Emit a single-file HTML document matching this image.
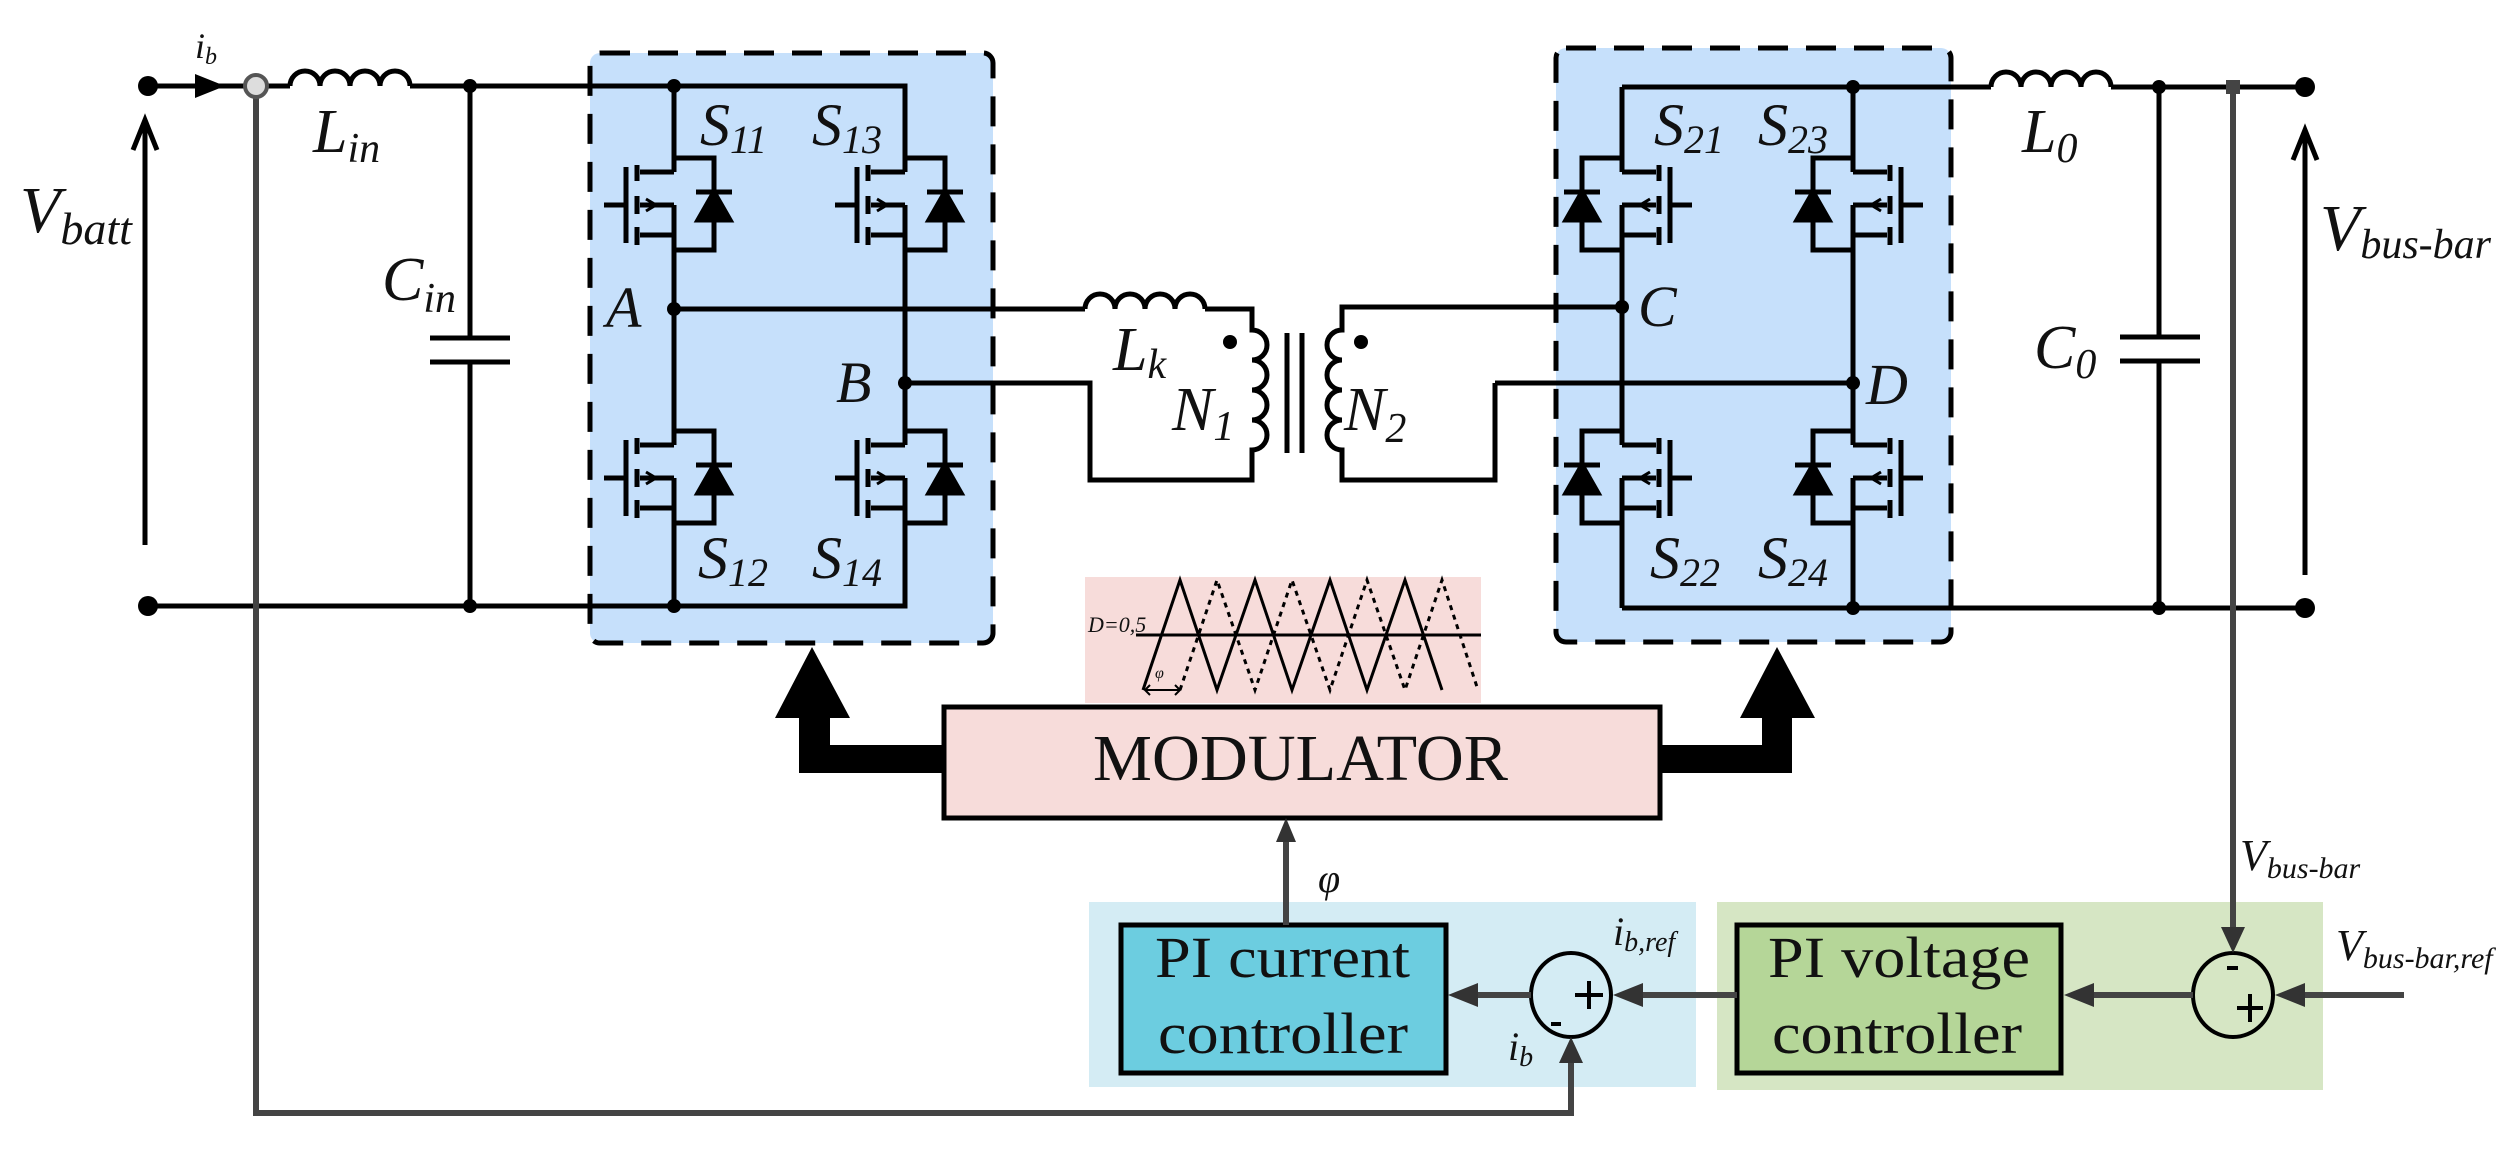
<!DOCTYPE html>
<html><head><meta charset="utf-8"><style>
html,body{margin:0;padding:0;background:#fff;font-family:"Liberation Serif","DejaVu Serif",serif;}
svg{display:block;}
svg text{font-family:"Liberation Serif","DejaVu Serif",serif !important;font-style:italic;fill:#111;}
svg text.n{font-style:normal;}
</style></head><body>
<svg width="2520" height="1150" viewBox="0 0 2520 1150" xmlns="http://www.w3.org/2000/svg" font-family="Liberation Serif, DejaVu Serif, serif">
<defs>
<g id="mos" fill="none" stroke="#000" stroke-width="5">
  <path d="M0,-33 H-34"/>
  <path d="M0,-47 H40 V45 H0"/>
  <path d="M22,-13 H58" />
  <path d="M40,-13 L24,15 H56 Z" fill="#000"/>
  <path d="M-34,0 H0 M-34,30 H0"/>
  <path d="M-37,-40 V-24 M-37,-9 V9 M-37,22 V40"/>
  <path d="M-48,-38 V38 M-70,0 H-48"/>
  <path d="M-28,-6 L-18,0 L-28,6" stroke-width="3"/>
</g>
</defs>

<rect x="590" y="53" width="403" height="590" rx="10" fill="#c6e0fb" stroke="#000" stroke-width="5" stroke-dasharray="30 18"/>
<rect x="1556" y="48" width="395" height="594" rx="10" fill="#c6e0fb" stroke="#000" stroke-width="5" stroke-dasharray="30 18"/>

<rect x="1089" y="902" width="607" height="185" fill="#d4ecf4"/>
<rect x="1717" y="902" width="606" height="188" fill="#d6e6c4"/>
<rect x="1085" y="577" width="396" height="126" fill="#f7dcda"/>

<g fill="none" stroke="#000" stroke-width="5">
<path d="M148,86 H290"/>
<path d="M290,86 a15,15 0 0 1 30,0 a15,15 0 0 1 30,0 a15,15 0 0 1 30,0 a15,15 0 0 1 30,0"/>
<path d="M410,86 H905 V172"/>
<path d="M148,606 H905 V511"/>
<path d="M470,86 V338 M430,338 H510 M430,362 H510 M470,362 V606"/>
<path d="M674,86 V172 M674,205 V445 M674,478 V606"/>
<path d="M905,205 V445 M905,478 V606"/>
<path d="M905,86 V158"/>
<path d="M674,309 H1085"/>
<path d="M1085,309 a15,15 0 0 1 30,0 a15,15 0 0 1 30,0 a15,15 0 0 1 30,0 a15,15 0 0 1 30,0"/>
<path d="M1205,309 H1252 V330 a15,15 0 0 1 0,30 a15,15 0 0 1 0,30 a15,15 0 0 1 0,30 a15,15 0 0 1 0,30 V480 H1090 V383 H905"/>
<path d="M1495,383 V480 H1342 V450 a15,15 0 0 1 0,-30 a15,15 0 0 1 0,-30 a15,15 0 0 1 0,-30 a15,15 0 0 1 0,-30 V307 H1622"/>
<path d="M1495,383 H1853"/>
<path d="M1287,333 V453 M1302,333 V453"/>
<path d="M1622,87 H1991"/>
<path d="M1991,87 a15,15 0 0 1 30,0 a15,15 0 0 1 30,0 a15,15 0 0 1 30,0 a15,15 0 0 1 30,0"/>
<path d="M2111,87 H2305"/>
<path d="M1622,608 H2305"/>
<path d="M1622,87 V172 M1622,205 V445 M1622,478 V608"/>
<path d="M1853,87 V172 M1853,205 V445 M1853,478 V608"/>
<path d="M2159,87 V337 M2120,337 H2200 M2120,361 H2200 M2159,361 V608"/>
<path d="M145,545 V122 M133,150 L145,120 L157,150"/>
<path d="M2305,575 V132 M2293,160 L2305,130 L2317,160"/>
</g>

<use href="#mos" transform="translate(674,205)"/>
<use href="#mos" transform="translate(905,205)"/>
<use href="#mos" transform="translate(674,478)"/>
<use href="#mos" transform="translate(905,478)"/>
<use href="#mos" transform="translate(1622,205) scale(-1,1)"/>
<use href="#mos" transform="translate(1853,205) scale(-1,1)"/>
<use href="#mos" transform="translate(1622,478) scale(-1,1)"/>
<use href="#mos" transform="translate(1853,478) scale(-1,1)"/>

<g fill="#000">
<circle cx="148" cy="86" r="10"/><circle cx="148" cy="606" r="10"/>
<circle cx="470" cy="86" r="7"/><circle cx="470" cy="606" r="7"/>
<circle cx="674" cy="86" r="7"/><circle cx="674" cy="606" r="7"/>
<circle cx="674" cy="309" r="7"/><circle cx="905" cy="383" r="7"/>
<circle cx="1622" cy="307" r="7"/><circle cx="1853" cy="383" r="7"/>
<circle cx="1853" cy="87" r="7"/><circle cx="1853" cy="608" r="7"/>
<circle cx="2159" cy="87" r="7"/><circle cx="2159" cy="608" r="7"/>
<circle cx="2305" cy="87" r="10"/><circle cx="2305" cy="608" r="10"/>
<circle cx="1230" cy="342" r="7"/><circle cx="1361" cy="342" r="7"/>
<path d="M195,74 L225,86 L195,98 Z"/>
</g>

<g fill="none" stroke="#000" stroke-width="3">
<path d="M1136,635 H1481"/>
<path d="M1143,690 L1180,580 L1217,690 L1255,580 L1292,690 L1330,580 L1367,690 L1405,580 L1442,690"/>
<path d="M1180,690 L1217,580 L1255,690 L1292,580 L1330,690 L1367,580 L1405,690 L1442,580 L1478,690" stroke-dasharray="5 5"/>
<path d="M1145,690 H1180 M1150,685 L1145,690 L1150,695 M1175,685 L1180,690 L1175,695" stroke-width="2"/>
</g>
<text x="1088" y="632" font-size="22">D=0,5</text>
<text x="1155" y="678" font-size="16">φ</text>

<path d="M944,745 H830 V718 H850 L812,647 L775,718 H799 V773 H944 Z" fill="#000"/>
<path d="M1660,745 H1762 V718 H1740 L1777,647 L1815,718 H1792 V773 H1660 Z" fill="#000"/>

<rect x="944" y="707" width="716" height="111" fill="#f7dcda" stroke="#000" stroke-width="5"/>
<text class="n" x="1093" y="780" font-size="66" textLength="415" lengthAdjust="spacingAndGlyphs">MODULATOR</text>

<rect x="1121" y="925" width="325" height="148" fill="#6ccde0" stroke="#000" stroke-width="5"/>
<text class="n" x="1155" y="977" font-size="58" textLength="255" lengthAdjust="spacingAndGlyphs">PI current</text>
<text class="n" x="1158" y="1053" font-size="58" textLength="250" lengthAdjust="spacingAndGlyphs">controller</text>
<rect x="1737" y="925" width="324" height="148" fill="#b5d698" stroke="#000" stroke-width="5"/>
<text class="n" x="1768" y="977" font-size="58" textLength="262" lengthAdjust="spacingAndGlyphs">PI voltage</text>
<text class="n" x="1772" y="1053" font-size="58" textLength="250" lengthAdjust="spacingAndGlyphs">controller</text>

<g fill="none" stroke="#000" stroke-width="4">
<ellipse cx="1571" cy="995" rx="40" ry="42"/>
<ellipse cx="2233" cy="995" rx="40" ry="42"/>
<path d="M1575,995 H1603 M1589,981 V1009 M1551,1024 H1561"/>
<path d="M2237,1008 H2263 M2250,994 V1022 M2227,968 H2238"/>
</g>

<g fill="none" stroke="#444" stroke-width="6">
<path d="M256,97 V1113 H1571 V1045"/>
<path d="M2233,94 V945"/>
<path d="M1286,925 V832"/>
<path d="M1531,995 H1470"/>
<path d="M1737,995 H1625"/>
<path d="M2193,995 H2090"/>
<path d="M2404,995 H2285"/>
</g>
<circle cx="256" cy="86" r="11" stroke="#555" stroke-width="4" fill="#ddd"/>
<rect x="2226" y="80" width="14" height="14" fill="#444"/>
<g fill="#333">
<path d="M1571,1037 L1559,1063 L1583,1063 Z"/>
<path d="M2233,953 L2221,927 L2245,927 Z"/>
<path d="M1286,818 L1276,842 L1296,842 Z"/>
<path d="M1448,995 L1478,983 L1478,1007 Z"/>
<path d="M1613,995 L1643,983 L1643,1007 Z"/>
<path d="M2064,995 L2094,983 L2094,1007 Z"/>
<path d="M2275,995 L2305,983 L2305,1007 Z"/>
</g>

<text x="195" y="58" font-size="36">i<tspan font-size="24" dy="6">b</tspan></text>
<text x="313" y="152" font-size="62">L<tspan font-size="42" dy="10">in</tspan></text>
<text x="20" y="232" font-size="66">V<tspan font-size="46" dy="12">batt</tspan></text>
<text x="382" y="300" font-size="62">C<tspan font-size="42" dy="12">in</tspan></text>
<text x="700" y="145" font-size="60">S<tspan font-size="40" dy="8">11</tspan></text>
<text x="812" y="145" font-size="60">S<tspan font-size="40" dy="8">13</tspan></text>
<text x="698" y="578" font-size="60">S<tspan font-size="40" dy="8">12</tspan></text>
<text x="812" y="578" font-size="60">S<tspan font-size="40" dy="8">14</tspan></text>
<text x="606" y="327" font-size="58">A</text>
<text x="836" y="402" font-size="58">B</text>
<text x="1113" y="370" font-size="62">L<tspan font-size="42" dy="8">k</tspan></text>
<text x="1172" y="430" font-size="62">N<tspan font-size="42" dy="10">1</tspan></text>
<text x="1344" y="430" font-size="62">N<tspan font-size="42" dy="12">2</tspan></text>
<text x="1638" y="326" font-size="58">C</text>
<text x="1866" y="404" font-size="58">D</text>
<text x="1654" y="145" font-size="60">S<tspan font-size="40" dy="8">21</tspan></text>
<text x="1758" y="145" font-size="60">S<tspan font-size="40" dy="8">23</tspan></text>
<text x="1650" y="578" font-size="60">S<tspan font-size="40" dy="8">22</tspan></text>
<text x="1758" y="578" font-size="60">S<tspan font-size="40" dy="8">24</tspan></text>
<text x="2022" y="152" font-size="62">L<tspan font-size="42" dy="10">0</tspan></text>
<text x="2034" y="368" font-size="62">C<tspan font-size="42" dy="10">0</tspan></text>
<text x="2320" y="250" font-size="66">V<tspan font-size="42" dy="8">bus-bar</tspan></text>
<text x="1318" y="892" font-size="40">φ</text>
<text x="2240" y="870" font-size="44">V<tspan font-size="30" dy="8">bus-bar</tspan></text>
<text x="2336" y="960" font-size="44">V<tspan font-size="30" dy="8">bus-bar,ref</tspan></text>
<text x="1613" y="945" font-size="40">i<tspan font-size="28" dy="6">b,ref</tspan></text>
<text x="1508" y="1060" font-size="40">i<tspan font-size="28" dy="6">b</tspan></text>
</svg>
</body></html>
